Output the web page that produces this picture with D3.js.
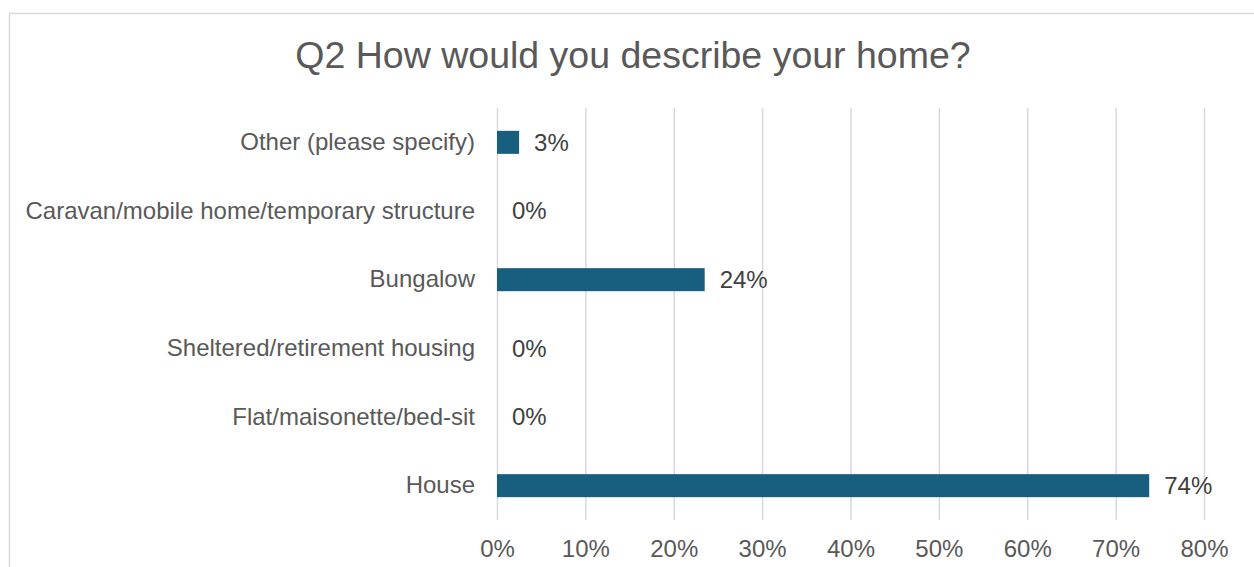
<!DOCTYPE html>
<html>
<head>
<meta charset="utf-8">
<script src="https://cdn.jsdelivr.net/npm/d3@7"></script>
<style>
  body { margin: 0; background: #fff; }
  text { font-family: "Liberation Sans", Arial, sans-serif; }
</style>
</head>
<body>
<svg id="chart" width="1254" height="567"></svg>
<script>
const svg = d3.select("#chart");
const width = +svg.attr("width");
const height = +svg.attr("height");
const margin = { top: 108, right: 50, bottom: 47, left: 497 };

// data, top to bottom as drawn
const categories = [
  "Other (please specify)",
  "Caravan/mobile home/temporary structure",
  "Bungalow",
  "Sheltered/retirement housing",
  "Flat/maisonette/bed-sit",
  "House"
];
const values = [2.5, 0, 23.5, 0, 0, 73.8];   // percent
const ticks = [0, 10, 20, 30, 40, 50, 60, 70, 80];

const data = categories.map((c, i) => ({ cat: c, val: values[i] }));

// chart frame
svg.append("rect")
  .attr("x", 9.5)
  .attr("y", 13.5)
  .attr("width", width)
  .attr("height", height)
  .attr("fill", "none")
  .attr("stroke", "#d9d9d9")
  .attr("stroke-width", 1.5);

const x = d3.scaleLinear()
  .domain([0, 80])
  .range([margin.left, 1204]);

const y = d3.scaleBand()
  .domain(categories)
  .range([margin.top, 520])
  .paddingInner(0.665)
  .paddingOuter(0.3325);

// gridlines
svg.append("g")
  .attr("class", "grid")
  .attr("transform", `translate(0,520)`)
  .call(d3.axisBottom(x)
    .tickValues(ticks)
    .tickSize(-(520 - margin.top))
    .tickFormat("")
  );
svg.selectAll(".grid line")
  .attr("stroke", "#d9d9d9")
  .attr("stroke-width", 1.5);
svg.selectAll(".grid path").remove();

// x axis labels
svg.append("g")
  .attr("class", "xaxis")
  .attr("transform", `translate(0,520)`)
  .call(d3.axisBottom(x)
    .tickValues(ticks)
    .tickSize(0)
    .tickPadding(20)
    .tickFormat(d => d + "%")
  );
svg.select(".xaxis path").remove();
svg.selectAll(".xaxis text")
  .attr("font-size", "24px")
  .attr("font-family", "Liberation Sans, Arial, sans-serif")
  .attr("fill", "#595959");

// y axis labels
svg.append("g")
  .attr("class", "yaxis")
  .attr("transform", `translate(${margin.left},0)`)
  .call(d3.axisLeft(y).tickSize(0).tickPadding(22));
svg.select(".yaxis path").remove();
svg.selectAll(".yaxis text")
  .attr("font-size", "24px")
  .attr("font-family", "Liberation Sans, Arial, sans-serif")
  .attr("fill", "#595959");

// bars
svg.selectAll(".bar")
  .data(data)
  .enter()
  .append("rect")
    .attr("class", "bar")
    .attr("x", x(0))
    .attr("y", d => y(d.cat))
    .attr("width", d => x(d.val) - x(0))
    .attr("height", y.bandwidth())
    .attr("fill", "#175e7f");

// value labels
svg.selectAll(".label")
  .data(data)
  .enter()
  .append("text")
    .attr("class", "label")
    .attr("x", d => x(d.val) + 15)
    .attr("y", d => y(d.cat) + y.bandwidth() / 2)
    .attr("dy", "0.35em")
    .attr("font-size", "24px")
    .attr("fill", "#404040")
    .text(d => Math.round(d.val) + "%");

// title
svg.append("text")
  .attr("x", 633)
  .attr("y", 68)
  .attr("text-anchor", "middle")
  .attr("font-size", "37.5px")
  .attr("fill", "#595959")
  .text("Q2 How would you describe your home?");
</script>
</body>
</html>
